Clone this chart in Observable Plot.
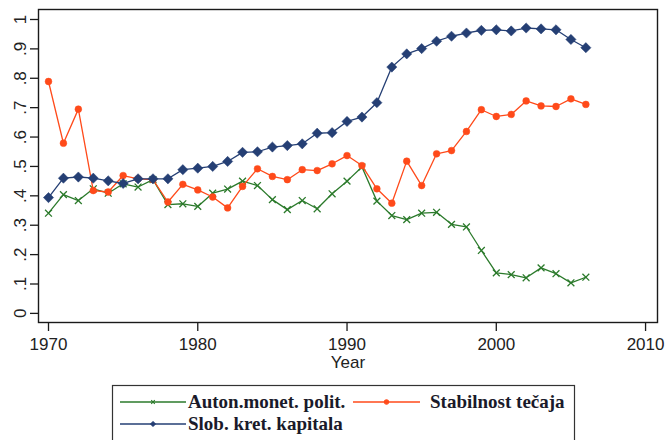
<!DOCTYPE html>
<html>
<head>
<meta charset="utf-8">
<script src="https://cdn.jsdelivr.net/npm/d3@7"></script>
<script src="https://cdn.jsdelivr.net/npm/@observablehq/plot@0.6"></script>
<style>
  html, body { margin: 0; padding: 0; background: #fff; }
  #wrap { position: relative; width: 665px; height: 440px; overflow: hidden; }
  #legend { position: absolute; left: 0; top: 0; }
  #chart svg text { font-size: 17px; }
</style>
</head>
<body>
<div id="wrap"><div id="chart"></div><svg id="legend" width="665" height="440"></svg></div>
<script>
const years = [1970,1971,1972,1973,1974,1975,1976,1977,1978,1979,1980,1981,1982,1983,1984,1985,1986,1987,1988,1989,1990,1991,1992,1993,1994,1995,1996,1997,1998,1999,2000,2001,2002,2003,2004,2005,2006];
const autonMonetPolit = [0.341,0.404,0.384,0.424,0.409,0.441,0.430,0.455,0.370,0.373,0.364,0.409,0.423,0.450,0.435,0.387,0.353,0.384,0.356,0.407,0.450,0.498,0.382,0.333,0.319,0.341,0.344,0.303,0.294,0.214,0.138,0.132,0.121,0.155,0.135,0.104,0.123];
const stabilnostTecaja = [0.789,0.579,0.695,0.418,0.413,0.469,0.458,0.455,0.379,0.439,0.420,0.396,0.359,0.432,0.492,0.466,0.455,0.489,0.486,0.509,0.537,0.503,0.424,0.375,0.518,0.435,0.543,0.554,0.619,0.693,0.670,0.677,0.723,0.706,0.704,0.730,0.711];
const slobKretKapitala = [0.394,0.460,0.464,0.460,0.451,0.442,0.458,0.458,0.458,0.489,0.494,0.500,0.517,0.548,0.550,0.566,0.571,0.577,0.613,0.615,0.653,0.668,0.717,0.838,0.883,0.901,0.926,0.943,0.954,0.963,0.965,0.961,0.971,0.968,0.965,0.932,0.904];
const seriesNames = ["Auton.monet. polit.", "Stabilnost tečaja", "Slob. kret. kapitala"];
const seriesColors = ["#2b7a2b", "#ff4a1a", "#253f74"];
const seriesSymbols = ["times", "circle", "diamond2"];
const xTicks = [1970, 1980, 1990, 2000, 2010];
const yTicks = [0, 0.1, 0.2, 0.3, 0.4, 0.5, 0.6, 0.7, 0.8, 0.9, 1];
const yTickLabels = ["0", ".1", ".2", ".3", ".4", ".5", ".6", ".7", ".8", ".9", "1"];
const xLabel = "Year";

const allSeries = [autonMonetPolit, stabilnostTecaja, slobKretKapitala];
const data = allSeries.flatMap((vals, s) => years.map((y, i) => ({year: y, value: vals[i], series: seriesNames[s]})));
const symR = {times: 3.2, circle: 3.4, diamond2: 4.6};

const marks = [
  Plot.frame({stroke: "#1a1a1a", strokeWidth: 1.4}),
  Plot.axisX({ticks: xTicks, tickSize: 9, tickPadding: 6, fontSize: 17, tickFormat: d => String(d), label: null, stroke: "#1a1a1a", strokeWidth: 1.3}),
  Plot.text([xLabel], {frameAnchor: "bottom", lineAnchor: "bottom", dy: 45, fontSize: 17, fill: "#222"}),
  Plot.axisY({ticks: yTicks, tickSize: 8, tickPadding: 5, fontSize: 17, tickRotate: -90, tickFormat: d => yTickLabels[yTicks.findIndex(t => Math.abs(t - d) < 1e-9)], label: null, stroke: "#1a1a1a", strokeWidth: 1.3})
];
seriesNames.forEach((name, s) => {
  const sub = data.filter(d => d.series === name);
  marks.push(Plot.line(sub, {x: "year", y: "value", stroke: seriesColors[s], strokeWidth: 1.3}));
  marks.push(Plot.dot(sub, {x: "year", y: "value", symbol: seriesSymbols[s], r: symR[seriesSymbols[s]],
    fill: seriesSymbols[s] === "times" ? "none" : seriesColors[s],
    stroke: seriesColors[s], strokeWidth: seriesSymbols[s] === "times" ? 1.3 : 0.5}));
});

const chart = Plot.plot({
  width: 665, height: 370,
  marginLeft: 38, marginTop: 9, marginRight: 8, marginBottom: 48,
  style: {fontFamily: "'Liberation Sans', Arial, sans-serif", fontSize: "17px", color: "#222", background: "#fff", overflow: "visible"},
  x: {domain: [1969.33, 2010.8]},
  y: {domain: [-0.031, 1.034]},
  marks
});
document.getElementById("chart").appendChild(chart);

// Legend (below the plot)
const lg = d3.select("#legend");
lg.append("rect").attr("x", 112.5).attr("y", 385.5).attr("width", 462).attr("height", 80)
  .attr("fill", "none").attr("stroke", "#333").attr("stroke-width", 1.2);
const legendItems = [
  {i: 0, lx: 120, ly: 402},
  {i: 1, lx: 353, ly: 402},
  {i: 2, lx: 120, ly: 424}
];
const symGen = {times: d3.symbolTimes, circle: d3.symbolCircle, diamond2: d3.symbolDiamond2};
legendItems.forEach(({i, lx, ly}) => {
  const w = i === 1 ? 67 : 66;
  lg.append("line").attr("x1", lx).attr("x2", lx + w).attr("y1", ly).attr("y2", ly)
    .attr("stroke", seriesColors[i]).attr("stroke-width", 1.3);
  const sym = seriesSymbols[i];
  lg.append("path").attr("transform", `translate(${lx + w / 2},${ly})`)
    .attr("d", d3.symbol(symGen[sym], sym === "times" ? 10 : 14)())
    .attr("fill", sym === "times" ? "none" : seriesColors[i])
    .attr("stroke", seriesColors[i]).attr("stroke-width", 1.1);
  lg.append("text").attr("x", lx + w + (i === 1 ? 10 : 2)).attr("y", ly + 6)
    .attr("font-family", "'Liberation Serif', 'Times New Roman', serif")
    .attr("font-weight", "bold").attr("font-size", 19).attr("fill", "#1a1a2a")
    .text(seriesNames[i]);
});
</script>
</body>
</html>
